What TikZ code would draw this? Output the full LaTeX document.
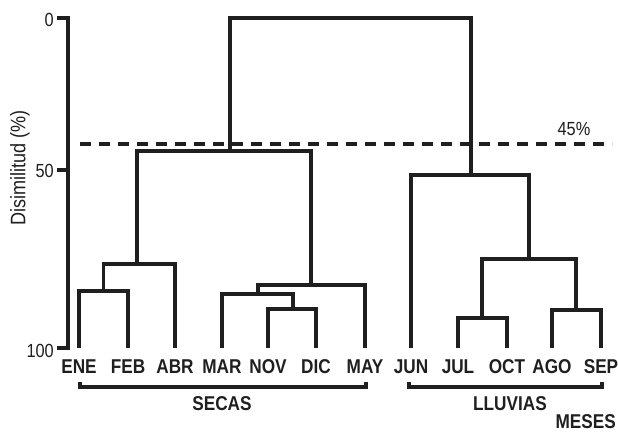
\documentclass[tikz,border=0pt]{standalone}
\usepackage{fontspec}
\setmainfont[FakeStretch=0.86]{Liberation Sans}
\tikzset{
  treeln/.style={draw=black!88,line width=3.3pt,line join=miter},
  axisln/.style={draw=black!88,line width=3.5pt,line join=miter},
  month/.style={font=\bfseries\fontsize{20}{22}\selectfont,anchor=base,inner sep=0pt,text=black!88},
  grp/.style={font=\bfseries\fontsize{20}{22}\selectfont,anchor=base,inner sep=0pt,text=black!88},
  tick/.style={font=\fontsize{19}{21}\selectfont,anchor=base east,inner sep=0pt,text=black!88}}
\begin{document}
\begin{tikzpicture}[x=1pt,y=-1pt]
\useasboundingbox (0,0) rectangle (618,432);

% axis
\coordinate (a0) at (68,18);
\coordinate (a50) at (68,170);
\coordinate (a100) at (68,348);
\coordinate (t0) at (57,18);
\coordinate (t50) at (57,170);
\coordinate (t100) at (57,348);
\draw[axisln] (t0) -- (a0) -- (a100) -- (t100);
\draw[axisln] (t50) -- (a50);
\node[tick] (l0) at (54,26) {0};
\node[tick] (l50) at (54,177) {50};
\node[tick] (l100) at (54,357) {100};
\node[font=\fontsize{21}{23}\selectfont,rotate=90,inner sep=0pt,text=black!88] (ylab) at (20,168) {Disimilitud (\%)};

% leaves
\foreach \n/\x in {ENE/79,FEB/128,ABR/175,MAR/222,NOV/268,DIC/316,MAY/365,JUN/411,JUL/458,OCT/507,AGO/552,SEP/601}{
  \coordinate (c\n) at (\x,348);
  \node[month] (n\n) at (\x,373) {\n};
}

% merges
\coordinate (m1) at (103.5,291);
\coordinate (m2) at (137,264);
\coordinate (m3) at (293,309);
\coordinate (m4) at (258,294);
\coordinate (m5) at (311,285);
\coordinate (m6) at (230,151);
\coordinate (m7) at (482,318);
\coordinate (m8) at (576,310);
\coordinate (m9) at (529,259);
\coordinate (m10) at (471,175);
\coordinate (m11) at (350,18);

\draw[treeln] (cENE) |- (m1) -| (cFEB);
\draw[treeln] (m1) |- (m2) -| (cABR);
\draw[treeln] (cNOV) |- (m3) -| (cDIC);
\draw[treeln] (cMAR) |- (m4) -| (m3);
\draw[treeln] (m4) |- (m5) -| (cMAY);
\draw[treeln] (m2) |- (m6) -| (m5);
\draw[treeln] (cJUL) |- (m7) -| (cOCT);
\draw[treeln] (cAGO) |- (m8) -| (cSEP);
\draw[treeln] (m7) |- (m9) -| (m8);
\draw[treeln] (cJUN) |- (m10) -| (m9);
\draw[treeln] (m6) |- (m11) -| (m10);

% cut line
\coordinate (d1) at (80,144);
\coordinate (d2) at (612,144);
\draw[line width=3.5pt,black!88,dash pattern=on 11pt off 8pt] (d1) -- (d2);
\node[font=\fontsize{19}{21}\selectfont,anchor=base,inner sep=0pt,text=black!88] (p45) at (574,135) {45\%};

% brackets
\coordinate (s1) at (80,382);
\coordinate (s2) at (366,382);
\draw[axisln] (s1) -- ++(0,5) -| (s2);
\coordinate (r1) at (409,382);
\coordinate (r2) at (602,382);
\draw[axisln] (r1) -- ++(0,5) -| (r2);
\node[grp] (secas) at (222,410) {SECAS};
\node[grp] (lluvias) at (510,410) {LLUVIAS};
\node[grp,anchor=base east] (meses) at (616,428) {MESES};
\end{tikzpicture}
\end{document}
